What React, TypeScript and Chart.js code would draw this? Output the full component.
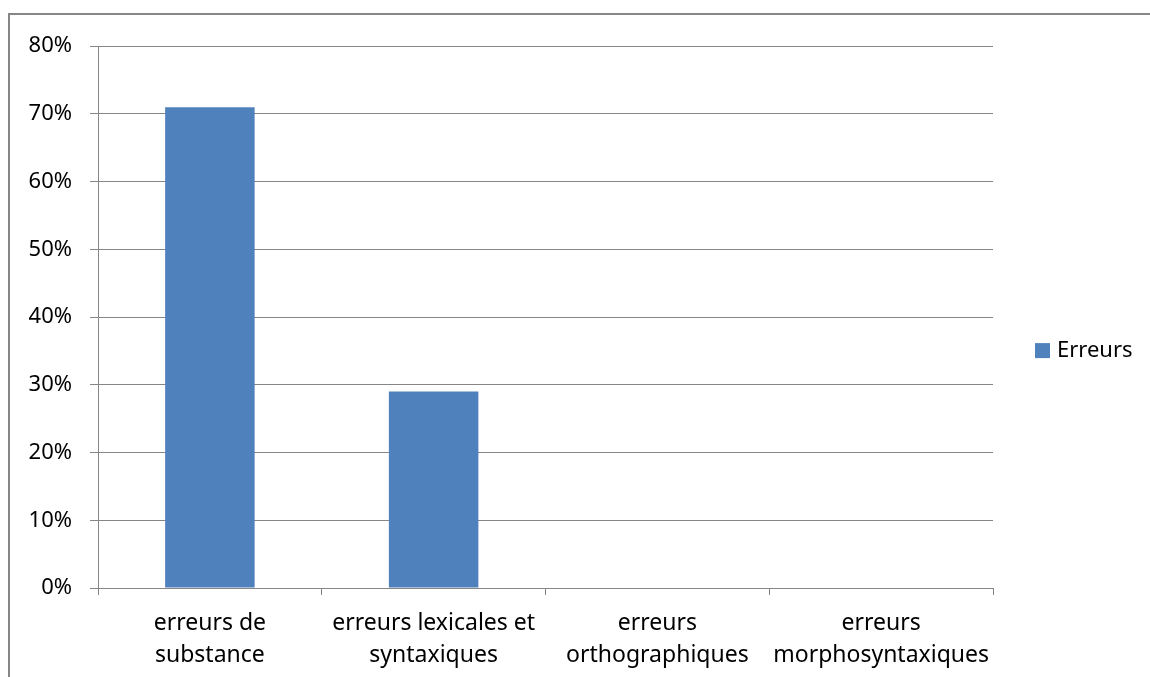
import React, { useEffect, useRef } from "react";
import { Chart, registerables } from "chart.js";

Chart.register(...registerables);

const categories: string[][] = [
  ["erreurs de", "substance"],
  ["erreurs lexicales et", "syntaxiques"],
  ["erreurs", "orthographiques"],
  ["erreurs", "morphosyntaxiques"],
];
const seriesLabel = "Erreurs";
const seriesValues: number[] = [71, 29, 0, 0];
const yMax = 80;
const yStep = 10;

const FONT = "'Noto Sans', 'Open Sans', sans-serif";
const GRID = "#868686";
const BAR = "#4F81BD";

const legendPlugin = {
  id: "customLegend",
  afterDraw(chart: any) {
    const ctx = chart.ctx;
    const ds = chart.data.datasets[0];
    const x = chart.chartArea.right + 42;
    const y = (chart.chartArea.top + chart.chartArea.bottom) / 2 + 34;
    ctx.save();
    ctx.fillStyle = ds.backgroundColor;
    ctx.fillRect(x, y - 8, 15, 15);
    ctx.fillStyle = "#000";
    ctx.font = `22px ${FONT}`;
    ctx.textBaseline = "middle";
    ctx.textAlign = "left";
    ctx.fillText(ds.label, x + 22, y);
    ctx.restore();
  },
};

export default function App() {
  const ref = useRef<HTMLCanvasElement>(null);
  useEffect(() => {
    if (!ref.current) return;
    const chart = new Chart(ref.current, {
      type: "bar",
      data: {
        labels: categories,
        datasets: [
          {
            label: seriesLabel,
            data: seriesValues,
            backgroundColor: BAR,
            borderWidth: 0,
            categoryPercentage: 1,
            barPercentage: 0.4,
          },
        ],
      },
      options: {
        animation: false,
        responsive: false,
        maintainAspectRatio: false,
        layout: { padding: { top: 30, right: 157, bottom: 0, left: 0 } },
        plugins: { legend: { display: false }, tooltip: { enabled: false } },
        scales: {
          x: {
            grid: {
              offset: true,
              drawOnChartArea: false,
              drawTicks: true,
              tickLength: 7,
              color: GRID,
              lineWidth: 1,
            },
            border: { display: true, color: GRID, width: 1 },
            ticks: {
              color: "#000",
              font: { family: FONT, size: 23, lineHeight: 1.4 },
              padding: 12,
              maxRotation: 0,
              autoSkip: false,
            },
            afterFit(scale: any) {
              scale.height = 89;
            },
          },
          y: {
            min: 0,
            max: yMax,
            grid: { color: GRID, lineWidth: 1, tickLength: 8, drawTicks: true },
            border: { display: true, color: GRID, width: 1 },
            ticks: {
              stepSize: yStep,
              color: "#000",
              font: { family: FONT, size: 22 },
              padding: 18,
              callback: (v: any) => `${v}%`,
            },
            afterFit(scale: any) {
              scale.width = 88;
            },
          },
        },
      },
      plugins: [legendPlugin],
    });
    return () => chart.destroy();
  }, []);
  return (
    <div
      style={{
        position: "fixed",
        left: 8,
        top: 13,
        borderTop: `2px solid ${GRID}`,
        borderLeft: `2px solid ${GRID}`,
        width: 1142,
        height: 664,
        boxSizing: "border-box",
        overflow: "hidden",
      }}
    >
      <canvas ref={ref} width={1140} height={662} style={{ display: "block" }} />
    </div>
  );
}
